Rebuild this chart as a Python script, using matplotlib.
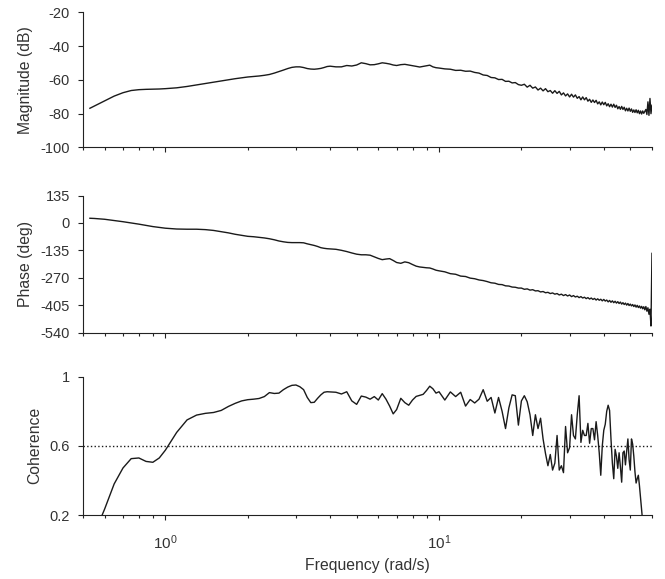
import matplotlib
matplotlib.use('Agg')
import matplotlib.pyplot as plt
from matplotlib.ticker import FixedLocator, FuncFormatter, LogLocator, NullFormatter

plt.rcParams['font.family'] = ['Liberation Sans', 'DejaVu Sans']
plt.rcParams['axes.unicode_minus'] = False

TEXT = '#333333'
LINE = '#1a1a1a'

# Frequency grid (rad/s) shared by all three estimates
freq = [
    0.53, 0.55, 0.6, 0.65, 0.7, 0.75, 0.8, 0.85, 0.9, 0.95,
    1.0, 1.1, 1.2, 1.3, 1.4, 1.5, 1.6, 1.7, 1.8, 1.9,
    2.0, 2.1, 2.2, 2.3, 2.4, 2.5, 2.6, 2.7, 2.8, 2.9,
    3.0, 3.1, 3.2, 3.3, 3.4, 3.5, 3.6, 3.7, 3.8, 3.9,
    4.0, 4.2, 4.4, 4.6, 4.8, 5.0, 5.2, 5.4, 5.6, 5.8,
    6.0, 6.2, 6.4, 6.6, 6.8,
    7.0, 7.25, 7.5, 7.75, 8.0, 8.25, 8.5, 8.75, 9.0, 9.25, 9.5, 9.75,
    10.0, 10.5, 11.0, 11.5, 12.0, 12.5, 13.0, 13.5, 14.0, 14.5,
    15.0, 15.5, 16.0, 16.5, 17.0, 17.5, 18.0, 18.5, 19.0, 19.5,
    20.0, 20.5, 21.0, 21.5, 22.0, 22.5, 23.0, 23.5, 24.0, 24.5,
    25.0, 25.5, 26.0, 26.5, 27.0, 27.5, 28.0, 28.5, 29.0, 29.5,
    30.0, 30.5, 31.0, 31.5, 32.0, 32.5, 33.0, 33.5, 34.0, 34.5,
    35.0, 35.5, 36.0, 36.5, 37.0, 37.5, 38.0, 38.5, 39.0, 39.5,
    40.0, 40.5, 41.0, 41.5, 42.0, 42.5, 43.0, 43.5, 44.0, 44.5,
    45.0, 45.5, 46.0, 46.5, 47.0, 47.5, 48.0, 48.5, 49.0, 49.5,
    50.0, 50.5, 51.0, 51.5, 52.0, 52.5, 53.0, 53.5, 54.0, 54.5,
    55.0, 55.5, 56.0, 56.5, 57.0, 57.5, 58.0, 58.5, 59.0, 59.5,
    60.0,
]

magnitude_db = [
    -76.8, -75.5, -72.4, -69.6, -67.6, -66.3, -65.8, -65.6, -65.5, -65.4,
    -65.2, -64.7, -63.9, -63.0, -62.2, -61.4, -60.7, -60.0, -59.3, -58.8,
    -58.3, -58.0, -57.7, -57.3, -56.8, -56.0, -55.1, -54.2, -53.3, -52.6,
    -52.3, -52.3, -52.7, -53.3, -53.6, -53.7, -53.5, -53.2, -52.7, -52.1,
    -51.9, -52.3, -52.3, -51.5, -51.8, -51.2, -49.9, -50.4, -51.1, -51.0,
    -50.5, -49.9, -50.2, -50.6, -51.2,
    -51.5, -51.0, -50.8, -51.2, -51.6, -52.0, -52.4, -52.0, -51.6, -51.3, -52.3, -52.8,
    -53.0, -53.5, -53.7, -54.4, -54.3, -54.9, -54.8, -55.6, -56.0, -57.1,
    -57.4, -58.6, -58.8, -59.8, -59.7, -60.9, -60.8, -61.8, -61.6, -62.8,
    -63.2, -62.6, -64.3, -63.2, -64.9, -64.2, -66.0, -64.9, -66.5, -65.2,
    -67.0, -66.3, -67.9, -66.4, -68.0, -66.8, -68.9, -67.7, -69.5, -68.3,
    -70.1, -68.5, -70.2, -68.9, -70.9, -69.9, -71.8, -70.1, -71.8, -70.5,
    -72.6, -71.5, -73.3, -71.9, -73.4, -72.1, -74.2, -73.0, -74.8, -73.1,
    -74.7, -73.3, -75.4, -74.1, -75.9, -74.4, -76.1, -74.4, -76.3, -75.0,
    -77.1, -75.8, -77.4, -75.7, -77.5, -76.2, -78.3, -76.8, -78.4, -76.7,
    -78.6, -77.2, -79.2, -77.8, -79.3, -77.7, -79.5, -78.0, -80.0, -78.4,
    -80.2, -78.4, -79.8, -78.6, -77.5, -80.5, -73.0, -81.0, -71.0, -80.0,
    -75.0,
]

phase_deg = [
    23, 22, 18, 12, 6, 0, -6, -12, -18, -22,
    -26, -30, -31, -31, -33, -37, -43, -49, -56, -61,
    -66, -68, -71, -74, -78, -83, -89, -93, -96, -97,
    -97, -97, -98, -103, -107, -111, -116, -122, -125, -127,
    -128, -130, -135, -141, -148, -154, -157, -157, -159, -167,
    -175, -181, -178, -176, -185,
    -195, -199, -192, -196, -205, -213, -217, -219, -221, -222, -227, -233,
    -236, -241, -250, -253, -262, -264, -272, -275, -281, -284,
    -289, -295, -297, -303, -304, -310, -311, -316, -317, -321,
    -321, -327, -325, -331, -329, -335, -334, -340, -338, -344,
    -342, -348, -345, -351, -348, -355, -351, -358, -353, -360,
    -355, -363, -358, -365, -361, -368, -363, -370, -366, -373,
    -368, -375, -370, -377, -372, -380, -374, -381, -376, -384,
    -377, -385, -380, -389, -382, -391, -384, -393, -386, -395,
    -388, -397, -390, -400, -393, -402, -395, -405, -397, -407,
    -400, -409, -402, -412, -404, -415, -406, -417, -409, -420,
    -411, -423, -413, -428, -412, -435, -418, -450, -425, -508,
    -150,
]

coherence = [
    0.03, 0.09, 0.235, 0.38, 0.472, 0.526, 0.530, 0.510, 0.505, 0.530,
    0.575, 0.678, 0.750, 0.778, 0.788, 0.793, 0.805, 0.828, 0.846, 0.860,
    0.867, 0.870, 0.874, 0.885, 0.908, 0.903, 0.905, 0.925, 0.940, 0.950,
    0.952, 0.942, 0.925, 0.880, 0.850, 0.852, 0.875, 0.895, 0.910, 0.913,
    0.912, 0.910, 0.900, 0.913, 0.860, 0.840, 0.888, 0.882, 0.870, 0.885,
    0.865, 0.902, 0.870, 0.830, 0.785,
    0.810, 0.875, 0.850, 0.835, 0.865, 0.886, 0.892, 0.898, 0.920, 0.945, 0.930, 0.905,
    0.913, 0.865, 0.912, 0.885, 0.910, 0.830, 0.868, 0.848, 0.870, 0.925,
    0.858, 0.880, 0.790, 0.880, 0.800, 0.700, 0.820, 0.895, 0.890, 0.720,
    0.860, 0.890, 0.855, 0.780, 0.660, 0.780, 0.700, 0.760, 0.640, 0.555,
    0.485, 0.550, 0.460, 0.500, 0.660, 0.460, 0.485, 0.445, 0.712, 0.560,
    0.590, 0.780, 0.660, 0.640, 0.780, 0.890, 0.620, 0.690, 0.660, 0.660,
    0.730, 0.615, 0.700, 0.700, 0.635, 0.740, 0.660, 0.560, 0.430, 0.600,
    0.690, 0.725, 0.800, 0.835, 0.805, 0.640, 0.500, 0.410, 0.580, 0.540,
    0.470, 0.560, 0.480, 0.390, 0.560, 0.570, 0.490, 0.570, 0.640, 0.520,
    0.460, 0.640, 0.610, 0.540, 0.450, 0.385, 0.410, 0.430, 0.370, 0.300,
    0.225, 0.160, 0.120, 0.150, 0.090, 0.130, 0.080, 0.110, 0.070, 0.100,
    0.060,
]

coherence_threshold = 0.6

mag_ticks = [-100, -80, -60, -40, -20]
phase_ticks = [-540, -405, -270, -135, 0, 135]
coh_ticks = [0.2, 0.6, 1.0]

fig = plt.figure(figsize=(6.65, 5.79), dpi=100)
ax_mag = fig.add_axes([0.1248, 0.7453, 0.8556, 0.2335])
ax_ph = fig.add_axes([0.1248, 0.4257, 0.8556, 0.2366])
ax_coh = fig.add_axes([0.1248, 0.1105, 0.8556, 0.2389])

ax_mag.semilogx(freq, magnitude_db, color=LINE, lw=1.0)
ax_ph.semilogx(freq, phase_deg, color=LINE, lw=1.0)
ax_coh.semilogx(freq, coherence, color=LINE, lw=1.0)
ax_coh.axhline(coherence_threshold, color=LINE, lw=1.0, ls=':')

panels = [
    (ax_mag, mag_ticks, 'Magnitude (dB)'),
    (ax_ph, phase_ticks, 'Phase (deg)'),
    (ax_coh, coh_ticks, 'Coherence'),
]
for ax, ticks, label in panels:
    ax.set_xlim(0.5, 60)
    ax.set_ylim(ticks[0], ticks[-1])
    ax.yaxis.set_major_locator(FixedLocator(ticks))
    ax.yaxis.set_major_formatter(FuncFormatter(lambda v, p: f'{v:g}'))
    ax.xaxis.set_major_locator(LogLocator(base=10))
    ax.xaxis.set_minor_locator(LogLocator(base=10, subs=range(2, 10)))
    ax.xaxis.set_minor_formatter(NullFormatter())
    ax.set_ylabel(label, fontsize=11.3, color=TEXT, labelpad=5)
    for side in ('top', 'right'):
        ax.spines[side].set_visible(False)
    for side in ('left', 'bottom'):
        ax.spines[side].set_linewidth(0.8)
        ax.spines[side].set_color('#222222')
    ax.tick_params(which='major', direction='out', length=3.5, width=0.8,
                   labelsize=10.5, labelcolor=TEXT, color='#222222')
    ax.tick_params(which='minor', direction='out', length=2, width=0.8,
                   color='#222222')
    ax.tick_params(axis='y', pad=6)

ax_mag.tick_params(axis='x', which='both', labelbottom=False)
ax_ph.tick_params(axis='x', which='both', labelbottom=False)
ax_coh.tick_params(axis='x', which='major', labelsize=11, pad=10)
ax_coh.set_xlabel('Frequency (rad/s)', fontsize=11.3, color=TEXT, labelpad=4)

fig.savefig('out.png', dpi=100)
